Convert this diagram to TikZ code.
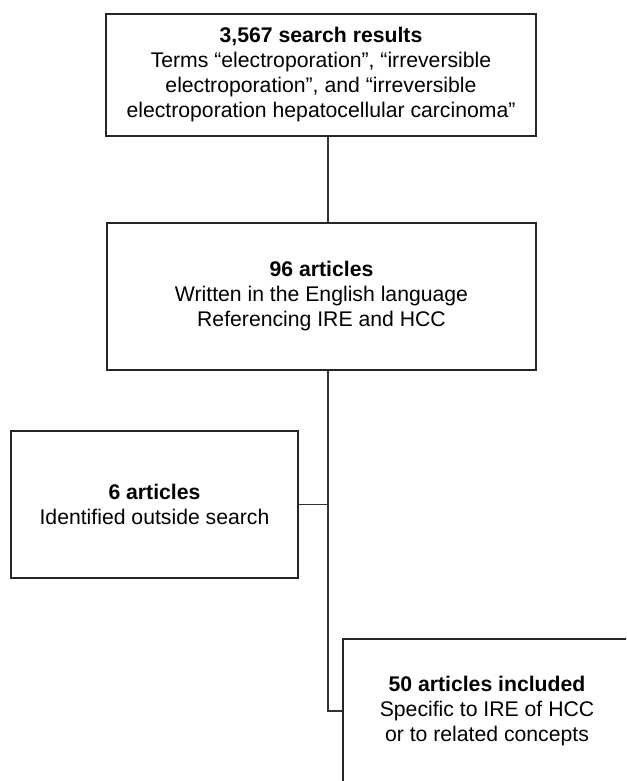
\documentclass[tikz,border=0pt]{standalone}
\usepackage{fontspec}
\setmainfont{Liberation Sans}
\begin{document}
\begin{tikzpicture}[x=1pt,y=-1pt,
  boxstyle/.style={draw=black!85, line width=1.1pt, rectangle, inner sep=0pt, align=center,
    font=\fontsize{21.2}{25}\selectfont, text=black},
  linkstyle/.style={draw=black!80, line width=1.1pt}]
\useasboundingbox (0,0) rectangle (626,781);
\clip (0,0) rectangle (626,781);
\fill[white] (0,0) rectangle (626,781);
\coordinate (spine) at (328,0);
\node[boxstyle, minimum width=430pt, minimum height=122pt] (b1) at (321,75)
  {\textbf{3,567 search results}\\Terms “electroporation”, “irreversible\\electroporation”, and “irreversible\\electroporation hepatocellular carcinoma”};
\node[boxstyle, minimum width=429pt, minimum height=147pt] (b2) at (321.5,296.5)
  {\textbf{96 articles}\\Written in the English language\\Referencing IRE and HCC};
\node[boxstyle, minimum width=287pt, minimum height=147pt] (b3) at (154.5,504.5)
  {\textbf{6 articles}\\Identified outside search};
\node[boxstyle, minimum width=288pt, minimum height=144pt] (b4) at (487,711)
  {\textbf{50 articles included}\\Specific to IRE of HCC\\or to related concepts};
\draw[linkstyle] (b1.south -| spine) -- (b2.north -| spine);
\draw[linkstyle] (b2.south -| spine) -- (spine |- b4.west) -- (b4.west);
\draw[linkstyle] (b3.east) -- (spine |- b3.east);
\end{tikzpicture}
\end{document}
